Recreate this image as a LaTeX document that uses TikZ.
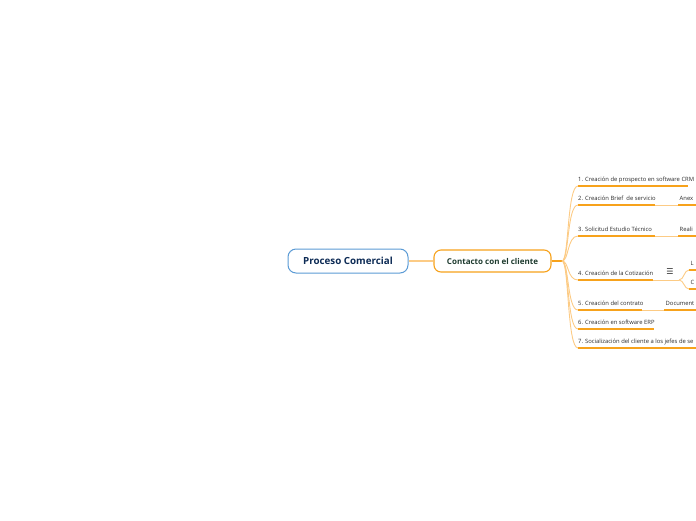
\documentclass[tikz,border=0pt]{standalone}
\usepackage{fontspec}
\setmainfont{Open Sans}
\newfontfamily\symfont{DejaVu Sans}
\definecolor{ordark}{HTML}{F7A21B}
\definecolor{orlight}{HTML}{FCCB85}
\definecolor{blueb}{HTML}{5B9BD5}
\definecolor{navy}{HTML}{0D2B55}
\definecolor{greent}{HTML}{1E3B2F}
\definecolor{txt}{HTML}{2A2A2A}
\newcommand\lbl[2]{\makebox[#1][l]{#2}}
\tikzset{
  rootbox/.style={draw=blueb, line width=1pt, rounded corners=8pt, fill=white,
    minimum width=120pt, minimum height=24pt, inner sep=0pt,
    font=\bfseries\fontsize{9.8}{11}\selectfont, text=navy},
  mainbox/.style={draw=ordark, line width=1.1pt, rounded corners=7pt, fill=white,
    minimum width=117pt, minimum height=22pt, inner sep=0pt,
    font=\bfseries\fontsize{8}{10}\selectfont, text=greent},
  child/.style={anchor=base west, inner sep=0pt, text=txt,
    font=\fontsize{5.85}{7}\selectfont},
  uline/.style={draw=ordark, line width=1.4pt},
  thinc/.style={draw=orlight, line width=0.9pt},
  stub/.style={draw=ordark, line width=1.6pt},
}
\begin{document}
\begin{tikzpicture}[x=1pt,y=-1pt]
\useasboundingbox (0,0) rectangle (696,520);
\clip (0,0) rectangle (696,520);
% central nodes
\node[rootbox] (root) at (348,261) {Proceso Comercial};
\node[mainbox] (main) at (492.5,261) {Contacto con el cliente};
\draw[draw=orlight, line width=1.6pt] (root.east) -- (main.west);
\coordinate (hub) at (562,261);
\draw[stub] (main.east) -- (hub);
% children (base line = underline - 4.5)
\node[child] (c1) at (578,181.5) {\lbl{110pt}{1. Creación de prospecto en software CRM}};
\node[child] (c2) at (578,200.5) {\lbl{77pt}{2. Creación Brief\ \ de servicio}};
\node[child] (c3) at (578,231.5) {\lbl{77pt}{3. Solicitud Estudio Técnico}};
\node[child] (c4) at (578,275.5) {\lbl{75pt}{4. Creación de la Cotización}};
\node[child] (c5) at (578,305.5) {\lbl{64pt}{5. Creación del contrato}};
\node[child] (c6) at (578,324.5) {\lbl{76pt}{6. Creación en software ERP}};
\node[child] (c7) at (578,343.5) {\lbl{118pt}{7. Socialización del cliente a los jefes de se}};
\foreach \n in {c1,c2,c3,c4,c5,c6,c7}{
  \draw[uline] ([yshift=-4.5pt]\n.base west) -- ([yshift=-4.5pt]\n.base east);
  \draw[thinc] (hub) .. controls +(7,0) and +(-11,0) .. ([yshift=-4.5pt]\n.base west);
}
% grandchildren
\node[child] (g2) at (678,200.5) {\lbl{18pt}{\ Anex}};
\node[child] (g3) at (678,231.5) {\lbl{18pt}{\ Reali}};
\node[child] (g5) at (664,305.5) {\lbl{32pt}{\ Document}};
\node[child] (g4a) at (689,265.5) {\lbl{7pt}{\ L}};
\node[child] (g4b) at (689,284.5) {\lbl{7pt}{\ C}};
\foreach \n in {g2,g3,g5,g4a,g4b}{
  \draw[uline] ([yshift=-4.5pt]\n.base west) -- ([yshift=-4.5pt]\n.base east);
}
\draw[thinc] ([yshift=-4.5pt]c2.base east) -- ([yshift=-4.5pt]g2.base west);
\draw[thinc] ([yshift=-4.5pt]c3.base east) -- ([yshift=-4.5pt]g3.base west);
\draw[thinc] ([yshift=-4.5pt]c5.base east) -- ([yshift=-4.5pt]g5.base west);
% cotización: icon + fork
\node[inner sep=0pt, text=txt, font=\symfont\fontsize{8}{9}\selectfont] (icon) at (670,272) {☰};
\coordinate (fork) at (679,280);
\draw[thinc] ([yshift=-4.5pt]c4.base east) -- (fork);
\draw[thinc] (fork) .. controls +(5,0) and +(-5,0) .. ([yshift=-4.5pt]g4a.base west);
\draw[thinc] (fork) .. controls +(5,0) and +(-5,0) .. ([yshift=-4.5pt]g4b.base west);
\end{tikzpicture}
\end{document}
